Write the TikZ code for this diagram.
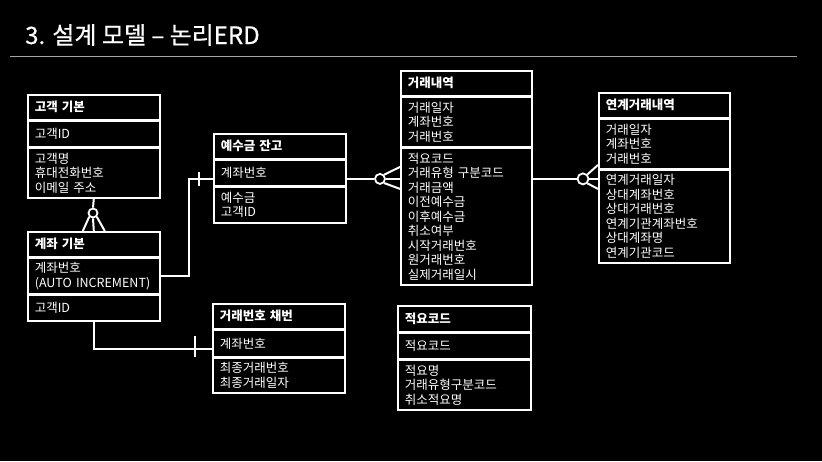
\documentclass[tikz,border=0pt]{standalone}
\usepackage{fontspec}
\setmainfont{Noto Sans CJK KR}
\newfontfamily\titlefont[FakeBold=0.6]{Noto Sans CJK KR}
\definecolor{rulegray}{RGB}{165,165,165}
\begin{document}
\begin{tikzpicture}[x=1pt,y=-1pt,
  sec/.style 2 args={draw=white, line width=1.6pt, anchor=north west, text width=#1,
    minimum height=#2, inner xsep=7pt, inner ysep=0pt, align=left, text=white,
    font=\fontsize{12.5}{14.5}\selectfont},
  hd/.style={font=\fontsize{12.5}{14.5}\selectfont\bfseries},
  conn/.style={draw=white, line width=2pt},
  ring/.style={circle, draw=white, line width=1.8pt, fill=black, inner sep=0pt, minimum size=#1},
  ring/.default=10pt]
\fill[black] (0,0) rectangle (822,461);
\useasboundingbox (0,0) rectangle (822,461);

% title
\node[anchor=base west, inner sep=0pt, text=white, font=\titlefont\fontsize{24}{28}\selectfont] (title) at (25,44) {3. 설계 모델 – 논리ERD};
\draw[rulegray, line width=1.2pt] (10,56.5) -- (797,56.5);

% 고객 기본
\node[sec={118}{25},hd] (gk1) at (27,94) {고객 기본};
\node[sec={118}{25}] (gk2) at (gk1.south west) {고객ID};
\node[sec={118}{50}] (gk3) at (gk2.south west) {고객명\\휴대전화번호\\이메일 주소};

% 계좌 기본
\node[sec={118}{25},hd] (ak1) at (27,231) {계좌 기본};
\node[sec={118}{35}] (ak2) at (ak1.south west) {계좌번호\\(AUTO~INCREMENT)};
\node[sec={118}{26}] (ak3) at (ak2.south west) {고객ID};

% 예수금 잔고
\node[sec={118}{25},hd] (yb1) at (213,133) {예수금 잔고};
\node[sec={118}{25}] (yb2) at (yb1.south west) {계좌번호};
\node[sec={118}{36}] (yb3) at (yb2.south west) {예수금\\고객ID};

% 거래내역
\node[sec={117}{25},hd] (th1) at (400,70) {거래내역};
\node[sec={117}{49}] (th2) at (th1.south west) {거래일자\\계좌번호\\거래번호};
\node[sec={117}{137}] (th3) at (th2.south west) {적요코드\\거래유형 구분코드\\거래금액\\이전예수금\\이후예수금\\취소여부\\시작거래번호\\원거래번호\\실제거래일시};

% 연계거래내역
\node[sec={117}{25},hd] (lt1) at (598,92) {연계거래내역};
\node[sec={117}{49}] (lt2) at (lt1.south west) {거래일자\\계좌번호\\거래번호};
\node[sec={117}{93}] (lt3) at (lt2.south west) {연계거래일자\\상대계좌번호\\상대거래번호\\연계기관계좌번호\\상대계좌명\\연계기관코드};

% 거래번호 채번
\node[sec={118}{25},hd] (tn1) at (212,303) {거래번호 채번};
\node[sec={118}{26}] (tn2) at (tn1.south west) {계좌번호};
\node[sec={118}{35}] (tn3) at (tn2.south west) {최종거래번호\\최종거래일자};

% 적요코드
\node[sec={119}{26},hd] (jc1) at (397,305) {적요코드};
\node[sec={119}{25}] (jc2) at (jc1.south west) {적요코드};
\node[sec={119}{50}] (jc3) at (jc2.south west) {적요명\\거래유형구분코드\\취소적요명};

% 고객 기본 -- 계좌 기본
\node[ring=9pt] (c1) at (93,213) {};
\draw[conn] (gk3.south) -- (c1.north);
\draw[conn] (c1.south) -- (ak1.north);
\draw[conn] ([xshift=-11pt]ak1.north) -- (c1.south west);
\draw[conn] ([xshift=11pt]ak1.north) -- (c1.south east);

% 계좌 기본 -- 예수금 잔고
\coordinate (yb-in) at ([yshift=-6pt]yb2.west);
\draw[conn] (ak2.east) -- ++(28,0) |- (yb-in);
\draw[conn] ([xshift=-14pt,yshift=7pt]yb-in) -- ([xshift=-14pt,yshift=-7pt]yb-in);

% 예수금 잔고 -- 거래내역
\coordinate (th-in) at (th3.west |- yb-in);
\node[ring=10pt] (c2) at ([xshift=-20pt]th-in) {};
\draw[conn] (yb2.east |- yb-in) -- (c2.west);
\draw[conn] (c2.east) -- (th-in);
\draw[conn] (c2.north east) -- ([yshift=12pt]th-in);
\draw[conn] (c2.south east) -- ([yshift=-10pt]th-in);

% 거래내역 -- 연계거래내역
\coordinate (lt-in) at (lt3.west |- yb-in);
\node[ring=11pt] (c3) at ([xshift=-15pt]lt-in) {};
\draw[conn] (th3.east |- yb-in) -- (c3.west);
\draw[conn] (c3.east) -- (lt-in);
\draw[conn] (c3.north east) -- ([yshift=14pt]lt-in);
\draw[conn] (c3.south east) -- ([yshift=-10pt]lt-in);

% 계좌 기본 -- 거래번호 채번
\coordinate (tn-in) at ([yshift=-6pt]tn2.west);
\draw[conn] (ak3.south) |- (tn-in);
\draw[conn] ([xshift=-17pt,yshift=13pt]tn-in) -- ([xshift=-17pt,yshift=-8pt]tn-in);
\end{tikzpicture}
\end{document}
